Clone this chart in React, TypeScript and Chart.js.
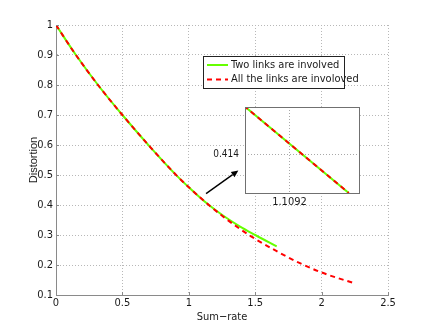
import React, { useEffect, useRef } from "react";
import { Chart, registerables } from "chart.js";

Chart.register(...registerables);

// ---- data ----
const xTickValues = [0, 0.5, 1, 1.5, 2, 2.5];
const yTickValues = [0.1, 0.2, 0.3, 0.4, 0.5, 0.6, 0.7, 0.8, 0.9, 1];

const twoLinksX = [0, 0.15, 0.325, 0.5, 0.708, 0.909, 1.02, 1.14, 1.26, 1.386, 1.5, 1.662];
const twoLinksY = [1, 0.9, 0.795, 0.7, 0.594, 0.498, 0.451, 0.404, 0.364, 0.328, 0.3, 0.262];

const allLinksX = [0, 0.15, 0.325, 0.5, 0.708, 0.909, 1.02, 1.14, 1.26, 1.386, 1.5, 1.662, 1.837, 2.0, 2.24];
const allLinksY = [1, 0.9, 0.795, 0.7, 0.594, 0.498, 0.451, 0.404, 0.361, 0.32, 0.287, 0.246, 0.206, 0.175, 0.14];

// zoomed inset around (1.1092, 0.414)
const insetTwoX = [1.1072, 1.1118];
const insetTwoY = [0.41516, 0.4131];
const insetAllX = [1.1072, 1.1118];
const insetAllY = [0.41516, 0.4131];
const insetXTicks = [1.1092];
const insetYTicks = [0.414];
const insetXRange = [1.10725, 1.11225];
const insetYRange = [0.4131, 0.41513];

const seriesLabels = ["Two links are involved", "All the links are involoved"];
const xTitle = "Sum\u2212rate";
const yTitle = "Distortion";

// arrow (data coordinates): tail -> head
const arrowFrom = [1.13, 0.4377];
const arrowTo = [1.373, 0.515];

// ---- styles ----
const GREEN = "#66ff00";
const RED = "#ff0000";
const NARROW = "'Liberation Sans Narrow', 'Arial Narrow', 'DejaVu Sans Condensed', 'Liberation Sans', Arial, sans-serif";
const REGULAR = "'Liberation Sans', Arial, sans-serif";
const TEXT = "#1a1a1a";
const GRID = "#b8b8b8";
const INSET_GRID = "#a8a8a8";
const AXIS = "#8a8a8a";

const W = 429;
const H = 332;

const toPts = (xs: number[], ys: number[]) => xs.map((x, i) => ({ x, y: ys[i] }));

const mainPlugin = {
  id: "mainExtras",
  afterDraw(chart: any) {
    const ctx = chart.ctx;
    const xs = chart.scales.x;
    const ys = chart.scales.y;
    const area = chart.chartArea;
    ctx.save();
    // inward tick marks
    ctx.strokeStyle = AXIS;
    ctx.lineWidth = 1;
    ctx.beginPath();
    yTickValues.forEach((v) => {
      const py = Math.round(ys.getPixelForValue(v)) + 0.5;
      ctx.moveTo(area.left, py);
      ctx.lineTo(area.left + 3, py);
    });
    xTickValues.forEach((v) => {
      const px = Math.round(xs.getPixelForValue(v)) + 0.5;
      ctx.moveTo(px, area.bottom);
      ctx.lineTo(px, area.bottom - 3);
    });
    ctx.stroke();

    // arrow
    const x1 = xs.getPixelForValue(arrowFrom[0]);
    const y1 = ys.getPixelForValue(arrowFrom[1]);
    const x2 = xs.getPixelForValue(arrowTo[0]);
    const y2 = ys.getPixelForValue(arrowTo[1]);
    const ang = Math.atan2(y2 - y1, x2 - x1);
    const hl = 7;
    const hw = 3.2;
    const bx = x2 - hl * Math.cos(ang);
    const by = y2 - hl * Math.sin(ang);
    ctx.strokeStyle = "#000";
    ctx.fillStyle = "#000";
    ctx.lineWidth = 1.4;
    ctx.beginPath();
    ctx.moveTo(x1, y1);
    ctx.lineTo(bx, by);
    ctx.stroke();
    ctx.beginPath();
    ctx.moveTo(x2, y2);
    ctx.lineTo(bx + hw * Math.sin(ang), by - hw * Math.cos(ang));
    ctx.lineTo(bx - hw * Math.sin(ang), by + hw * Math.cos(ang));
    ctx.closePath();
    ctx.fill();

    // legend box
    const lx = 203.5;
    const ly = 56.5;
    const lw = 141;
    const lh = 32;
    ctx.fillStyle = "#fff";
    ctx.fillRect(lx, ly, lw, lh);
    ctx.strokeStyle = "#222";
    ctx.lineWidth = 1;
    ctx.strokeRect(lx, ly, lw, lh);
    const rows = [65, 79.5];
    chart.data.datasets.forEach((ds: any, i: number) => {
      ctx.save();
      ctx.strokeStyle = ds.borderColor;
      ctx.lineWidth = ds.borderWidth;
      ctx.setLineDash(ds.borderDash || []);
      ctx.beginPath();
      ctx.moveTo(207, rows[i]);
      ctx.lineTo(228, rows[i]);
      ctx.stroke();
      ctx.restore();
      ctx.fillStyle = TEXT;
      ctx.font = `11px ${NARROW}`;
      ctx.textBaseline = "middle";
      ctx.textAlign = "left";
      ctx.fillText(ds.label, 231, rows[i]);
    });
    ctx.restore();
  },
};

const insetPlugin = {
  id: "insetExtras",
  beforeDraw(chart: any) {
    const a = chart.chartArea;
    const ctx = chart.ctx;
    ctx.save();
    ctx.fillStyle = "#ffffff";
    ctx.fillRect(a.left, a.top, a.right - a.left, a.bottom - a.top);
    ctx.restore();
  },
  afterDraw(chart: any) {
    const a = chart.chartArea;
    const ctx = chart.ctx;
    ctx.save();
    ctx.strokeStyle = "#707070";
    ctx.lineWidth = 1;
    ctx.strokeRect(Math.round(a.left) + 0.5, Math.round(a.top) + 0.5, Math.round(a.right - a.left), Math.round(a.bottom - a.top));
    ctx.restore();
  },
};

export default function App() {
  const mainRef = useRef<HTMLCanvasElement | null>(null);
  const insetRef = useRef<HTMLCanvasElement | null>(null);

  useEffect(() => {
    if (!mainRef.current || !insetRef.current) return;
    const main = new Chart(mainRef.current, {
      type: "line",
      data: {
        datasets: [
          {
            label: seriesLabels[0],
            data: toPts(twoLinksX, twoLinksY),
            borderColor: GREEN,
            borderWidth: 2,
            pointRadius: 0,
            cubicInterpolationMode: "monotone",
            order: 1,
          },
          {
            label: seriesLabels[1],
            data: toPts(allLinksX, allLinksY),
            borderColor: RED,
            borderWidth: 2,
            borderDash: [5, 4],
            pointRadius: 0,
            cubicInterpolationMode: "monotone",
            order: 0,
          },
        ],
      },
      options: {
        responsive: false,
        animation: false,
        devicePixelRatio: 1,
        events: [],
        layout: { padding: { left: 0, top: 25, right: 41, bottom: 0 } },
        plugins: { legend: { display: false }, tooltip: { enabled: false } },
        scales: {
          x: {
            type: "linear",
            min: 0,
            max: 2.5,
            afterBuildTicks: (s: any) => {
              s.ticks = xTickValues.map((v) => ({ value: v }));
            },
            afterFit: (s: any) => {
              s.height = 37;
            },
            ticks: {
              autoSkip: false,
              maxRotation: 0,
              padding: 2,
              color: TEXT,
              font: { family: NARROW, size: 11 },
              callback: (v: any) => String(v),
            },
            grid: { color: GRID, lineWidth: 1, drawTicks: false },
            border: { display: true, color: AXIS, width: 1, dash: [1, 2] },
            title: {
              display: true,
              text: xTitle,
              color: TEXT,
              font: { family: NARROW, size: 11 },
              padding: { top: 0, bottom: 8.6 },
            },
          },
          y: {
            type: "linear",
            min: 0.1,
            max: 1,
            afterBuildTicks: (s: any) => {
              s.ticks = yTickValues.map((v) => ({ value: v }));
            },
            afterFit: (s: any) => {
              s.width = 56;
            },
            ticks: {
              autoSkip: false,
              padding: 3,
              color: TEXT,
              font: { family: NARROW, size: 11 },
              callback: (v: any) => String(v),
            },
            grid: { color: GRID, lineWidth: 1, drawTicks: false },
            border: { display: true, color: AXIS, width: 1, dash: [1, 2] },
            title: {
              display: true,
              text: yTitle,
              color: TEXT,
              font: { family: REGULAR, size: 11 },
              padding: { top: 26.9, bottom: 0 },
            },
          },
        },
      },
      plugins: [mainPlugin],
    } as any);

    const inset = new Chart(insetRef.current, {
      type: "line",
      data: {
        datasets: [
          {
            label: seriesLabels[0],
            data: toPts(insetTwoX, insetTwoY),
            borderColor: GREEN,
            borderWidth: 2,
            pointRadius: 0,
            clip: 0,
            order: 1,
          },
          {
            label: seriesLabels[1],
            data: toPts(insetAllX, insetAllY),
            borderColor: RED,
            borderWidth: 2,
            borderDash: [5, 4],
            pointRadius: 0,
            clip: 0,
            order: 0,
          },
        ],
      },
      options: {
        responsive: false,
        animation: false,
        devicePixelRatio: 1,
        events: [],
        layout: { padding: { left: 0, top: 9, right: 11, bottom: 0 } },
        plugins: { legend: { display: false }, tooltip: { enabled: false } },
        scales: {
          x: {
            type: "linear",
            min: insetXRange[0],
            max: insetXRange[1],
            afterBuildTicks: (s: any) => {
              s.ticks = insetXTicks.map((v) => ({ value: v }));
            },
            afterFit: (s: any) => {
              s.height = 22;
            },
            ticks: {
              autoSkip: false,
              maxRotation: 0,
              padding: 3,
              color: TEXT,
              font: { family: NARROW, size: 11 },
              callback: (v: any) => String(v),
            },
            grid: { display: true, color: INSET_GRID, lineWidth: 1, drawTicks: false },
            border: { display: false, dash: [1, 2] },
          },
          y: {
            type: "linear",
            min: insetYRange[0],
            max: insetYRange[1],
            afterBuildTicks: (s: any) => {
              s.ticks = insetYTicks.map((v) => ({ value: v }));
            },
            afterFit: (s: any) => {
              s.width = 45;
            },
            ticks: {
              autoSkip: false,
              padding: 6,
              color: TEXT,
              font: { family: NARROW, size: 10 },
              callback: (v: any) => String(v),
            },
            grid: { display: true, color: INSET_GRID, lineWidth: 1, drawTicks: false },
            border: { display: false, dash: [1, 2] },
          },
        },
      },
      plugins: [insetPlugin],
    } as any);

    return () => {
      main.destroy();
      inset.destroy();
    };
  }, []);

  return (
    <div style={{ position: "absolute", left: 0, top: 0, width: W, height: H, background: "#fff" }}>
      <canvas ref={mainRef} width={W} height={H} style={{ position: "absolute", left: 0, top: 0, width: W, height: H }} />
      <canvas ref={insetRef} width={170} height={120} style={{ position: "absolute", left: 200, top: 95, width: 170, height: 120 }} />
    </div>
  );
}
